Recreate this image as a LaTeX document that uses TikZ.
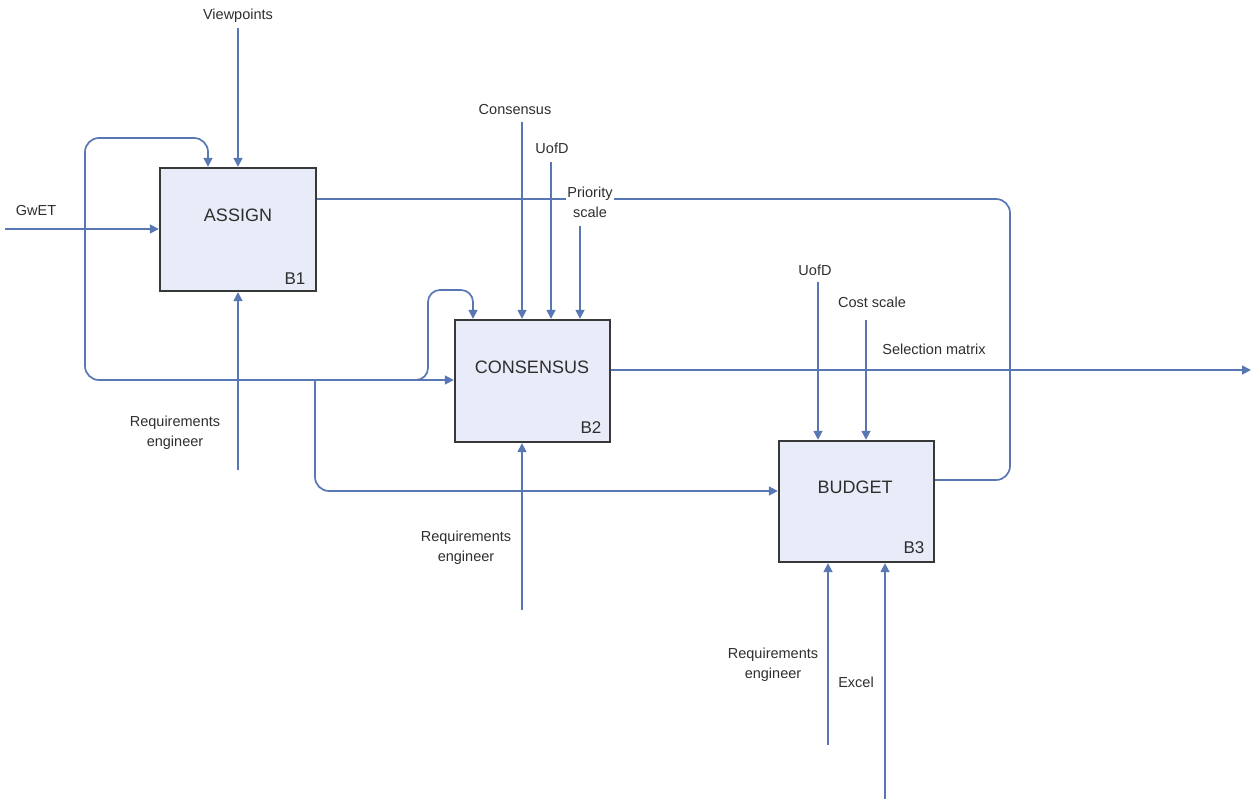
\documentclass[tikz,border=0pt]{standalone}
\usepackage{fontspec}
\setmainfont{Liberation Sans}
\usetikzlibrary{arrows.meta}
\definecolor{ln}{HTML}{5877B3}
\definecolor{bx}{HTML}{E8ECF8}
\definecolor{bd}{HTML}{383838}
\definecolor{tx}{HTML}{2E2E2E}
\begin{document}
\begin{tikzpicture}[x=1pt,y=-1pt,
  flow/.style={draw=ln, line width=1.7pt},
  arr/.style={flow, -{Triangle[length=9pt,width=9pt]}},
  box/.style={draw=bd, fill=bx, line width=2.4pt, inner sep=0pt},
  lab/.style={font=\fontsize{14.5}{20}\selectfont, text=tx, align=center, inner sep=1pt},
  wlab/.style={lab, fill=white},
  blab/.style={font=\fontsize{18}{20}\selectfont, text=tx, inner sep=0pt},
  idlab/.style={font=\fontsize{17}{20}\selectfont, text=tx, inner sep=0pt},
  rc/.style={rounded corners=14pt}
]
\useasboundingbox (0,0) rectangle (1252,799);

% boxes
\node[box, minimum width=156pt, minimum height=123pt] (a1) at (238,229.5) {};
\node[box, minimum width=155pt, minimum height=122pt] (a2) at (532.5,381) {};
\node[box, minimum width=155pt, minimum height=121pt] (a3) at (856.5,501.5) {};
\node[blab] (t1) at (238,215) {ASSIGN};
\node[blab] (t2) at (532,367) {CONSENSUS};
\node[blab] (t3) at (855,487) {BUDGET};
\node[idlab] (b1) at (295,279) {B1};
\node[idlab] (b2) at (591,428) {B2};
\node[idlab] (b3) at (914,548) {B3};

% free ends
\coordinate (gwS) at (5,229);
\coordinate (vpS) at (238,28);
\coordinate (csS) at (522,122);
\coordinate (u1S) at (551,162);
\coordinate (psS) at (580,226);
\coordinate (u2S) at (818,282);
\coordinate (cxS) at (866,320);
\coordinate (r1S) at (238,470);
\coordinate (r2S) at (522,610);
\coordinate (r3S) at (828,745);
\coordinate (exS) at (885,799);
\coordinate (smE) at (1251,370);
\coordinate (jA) at (405,380);
\coordinate (jB) at (315,380);

% output loop of ASSIGN to BUDGET
\draw[flow, rc] (a1.east |- 0,199) -- (1010,199) -- (1010,480) -- (a3.east |- 0,480);

% left loop: into ASSIGN top and CONSENSUS left
\draw[flow, rc, {Triangle[length=9pt,width=9pt]}-{Triangle[length=9pt,width=9pt]}]
  (208,0 |- a1.north) -- (208,138) -- (85,138) -- (85,380) -- (a2.west |- 0,380);
% branch up to CONSENSUS top
\draw[arr, rounded corners=12pt] (jA) -- (428,380) -- (428,290) -- (473,290) -- (473,0 |- a2.north);
% branch down to BUDGET
\draw[arr, rounded corners=14pt] (jB) -- (315,491) -- (a3.west |- 0,491);

% inputs
\draw[arr] (gwS) -- (a1.west |- gwS);
\draw[arr] (vpS) -- (a1.north);
\draw[arr] (csS) -- (csS |- a2.north);
\draw[arr] (u1S) -- (u1S |- a2.north);
\draw[arr] (psS) -- (psS |- a2.north);
\draw[arr] (u2S) -- (u2S |- a3.north);
\draw[arr] (cxS) -- (cxS |- a3.north);
\draw[arr] (r1S) -- (r1S |- a1.south);
\draw[arr] (r2S) -- (r2S |- a2.south);
\draw[arr] (r3S) -- (r3S |- a3.south);
\draw[arr] (exS) -- (exS |- a3.south);
\draw[arr] (a2.east |- smE) -- (smE);

% labels
\node[lab] (lvp) at (238,16) {Viewpoints};
\node[lab] (lgw) at (36,211) {GwET};
\node[lab] (lcs) at (515,110) {Consensus};
\node[lab] (lu1) at (552,148) {UofD};
\node[wlab] (lps) at (590,202) {Priority\\scale};
\node[lab] (lu2) at (815,270) {UofD};
\node[lab] (lcx) at (872,302) {Cost scale};
\node[lab] (lsm) at (934,349) {Selection matrix};
\node[lab] (lr1) at (175,433) {Requirements\\engineer};
\node[lab] (lr2) at (466,548) {Requirements\\engineer};
\node[lab] (lr3) at (773,665) {Requirements\\engineer};
\node[lab] (lex) at (856,682) {Excel};
\end{tikzpicture}
\end{document}
